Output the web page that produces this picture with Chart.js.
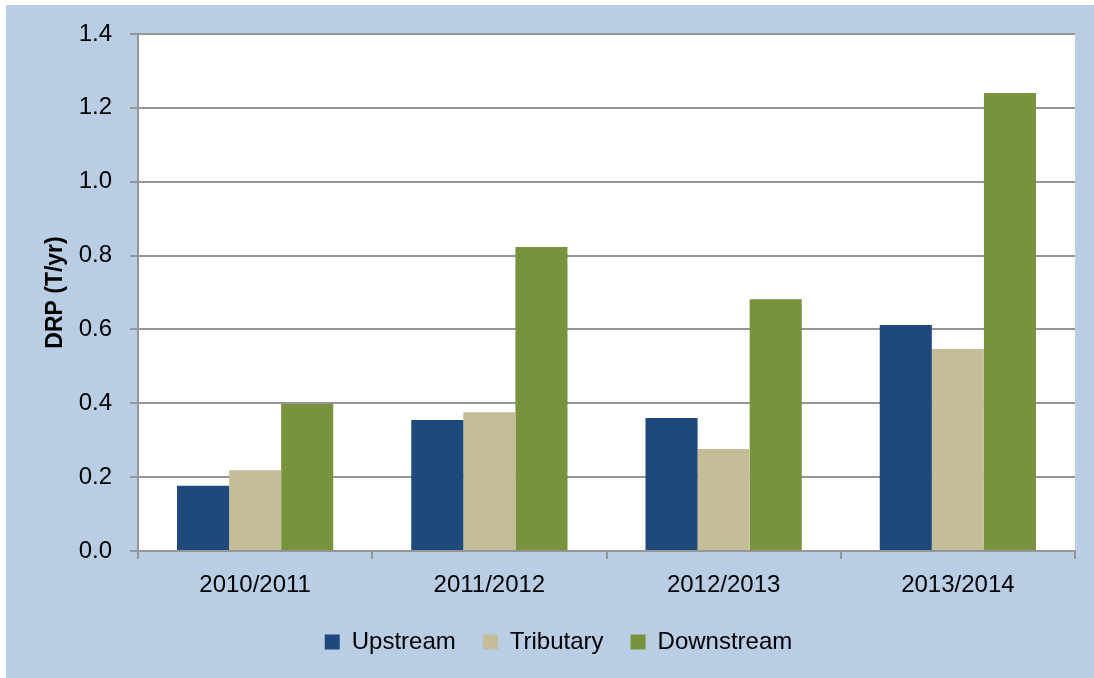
<!DOCTYPE html>
<html>
<head>
<meta charset="utf-8">
<script src="https://cdn.jsdelivr.net/npm/chart.js@4/dist/chart.umd.min.js"></script>
<style>
  html, body { margin: 0; padding: 0; background: #B9CDE5; overflow: hidden; }
  #wrap { position: absolute; left: 6px; top: 5px; width: 1088px; height: 673px; }
  #stripT { position: absolute; left: 0; top: 0; width: 1094px; height: 5px; background: #fff; }
  #stripL { position: absolute; left: 0; top: 0; width: 6px; height: 678px; background: #fff; }
  canvas { display: block; }
</style>
</head>
<body>
<div id="stripT"></div><div id="stripL"></div>
<div id="wrap"><canvas id="c" width="1088" height="673"></canvas></div>
<script>
const categories = ['2010/2011', '2011/2012', '2012/2013', '2013/2014'];
const upstream   = [0.177, 0.355, 0.360, 0.612];
const tributary  = [0.219, 0.376, 0.276, 0.547];
const downstream = [0.398, 0.823, 0.682, 1.240];
const yTicks = [0, 0.2, 0.4, 0.6, 0.8, 1.0, 1.2, 1.4];

const FONT = "'Liberation Sans', Arial, sans-serif";
const GRID = '#959595';

const plotBg = {
  id: 'plotBg',
  beforeDraw(chart) {
    const {ctx, chartArea: a} = chart;
    ctx.save();
    ctx.fillStyle = '#ffffff';
    ctx.fillRect(a.left, a.top, a.right - a.left, a.bottom - a.top);
    ctx.restore();
  }
};

new Chart(document.getElementById('c'), {
  type: 'bar',
  data: {
    labels: categories,
    datasets: [
      { label: 'Upstream',   data: upstream,   backgroundColor: '#1F497D' },
      { label: 'Tributary',  data: tributary,  backgroundColor: '#C4BD97' },
      { label: 'Downstream', data: downstream, backgroundColor: '#77933C' }
    ]
  },
  options: {
    responsive: false,
    animation: false,
    devicePixelRatio: 1,
    layout: { padding: { left: 36, right: 19, top: 29, bottom: 14 } },
    datasets: { bar: { categoryPercentage: 0.667, barPercentage: 1.0 } },
    plugins: {
      tooltip: { enabled: false },
      legend: {
        position: 'bottom',
        labels: {
          boxWidth: 15, boxHeight: 15, padding: 27,
          color: '#000000',
          font: { family: FONT, size: 24 }
        }
      }
    },
    scales: {
      x: {
        grid: { display: true, drawOnChartArea: false, drawTicks: true, tickLength: 8, color: GRID, lineWidth: 2 },
        border: { display: true, color: GRID, width: 2 },
        ticks: { color: '#000000', font: { family: FONT, size: 24 }, padding: 12, maxRotation: 0 },
        afterFit(scale) { scale.height = 52; }
      },
      y: {
        min: 0, max: 1.4,
        afterBuildTicks(scale) { scale.ticks = yTicks.map(v => ({ value: v })); },
        grid: { color: GRID, lineWidth: 2, tickLength: 8, drawTicks: true },
        border: { display: true, color: GRID, width: 2 },
        ticks: {
          color: '#000000', font: { family: FONT, size: 24 }, padding: 18,
          callback: (v) => Number(v).toFixed(1)
        },
        title: {
          display: true, text: 'DRP (T/yr)', color: '#000000',
          font: { family: FONT, size: 23, weight: 'bold' },
          padding: { top: 0, bottom: 0 }
        },
        afterFit(scale) { scale.width = 96; scale.paddingTop = 0; scale.paddingBottom = 0; }
      }
    }
  },
  plugins: [plotBg]
});
</script>
</body>
</html>
